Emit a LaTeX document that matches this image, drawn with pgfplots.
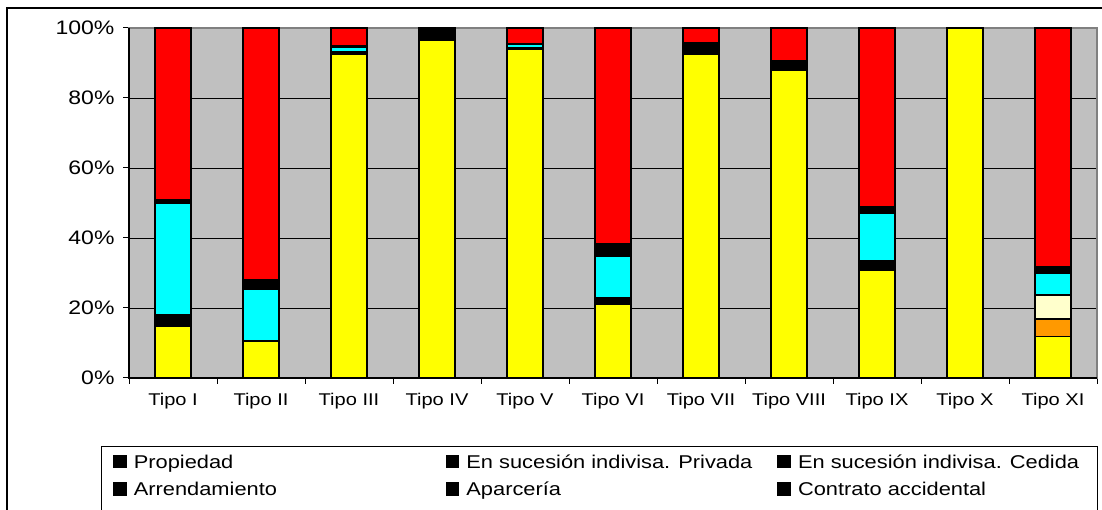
\documentclass[border=0pt]{standalone}
\usepackage{pgfplots}
\usepackage{pgfplotstable}
\pgfplotsset{compat=1.18}
\usepackage{fontspec}
\setmainfont{Liberation Sans}
\newfontfamily\widefont[FakeStretch=1.18]{Liberation Sans}
\definecolor{cgray}{RGB}{192,192,192}
\definecolor{corange}{RGB}{255,153,0}
\definecolor{clyellow}{RGB}{255,255,204}
\definecolor{cyel}{RGB}{255,255,0}
\definecolor{ccyan}{RGB}{0,255,255}
\definecolor{cred}{RGB}{255,0,0}
\definecolor{cbox}{RGB}{128,128,128}

\pgfplotstableread{
x yel ora lye blk1 cya blk2 red
0 14.7 0 0 3.4 31.8 1.1 49.0
1 10.6 0 0 0 14.8 2.6 72.0
2 92.6 0.6 0 0 1.4 0.3 5.1
3 96.6 0 0 0 0 3.4 0
4 94.0 0 0 0.4 0.9 0.3 4.4
5 21.0 0 0 1.8 11.9 3.5 61.8
6 92.4 0 0 0 0 3.5 4.1
7 88.0 0 0 0 0 2.6 9.4
8 30.7 0 0 2.9 13.6 1.7 51.1
9 100 0 0 0 0 0 0
10 11.8 5.0 6.9 0 6.2 1.9 68.2
}\data

\begin{document}
\begin{tikzpicture}[x=1pt,y=1pt]
\useasboundingbox (0,0) rectangle (1102,510);
\clip (0,0) rectangle (1102,510);
\draw[line width=2pt] (7,-10) -- (7,502) -- (1120,502);
\draw[line width=1pt] (101,-10) -- (101,63) -- (1097,63) -- (1097,-10);
\begin{axis}[
  at={(129pt,132pt)}, anchor=south west,
  scale only axis, width=968pt, height=350pt,
  ybar stacked, bar width=36pt,
  xmin=-0.5, xmax=10.5, ymin=0, ymax=100,
  axis background/.style={fill=cgray},
  axis line style={cbox, line width=1.2pt},
  xtick={-0.5,0.5,1.5,2.5,3.5,4.5,5.5,6.5,7.5,8.5,9.5,10.5},
  x tick label as interval,
  xticklabels={Tipo I,Tipo II,Tipo III,Tipo IV,Tipo V,Tipo VI,Tipo VII,Tipo VIII,Tipo IX,Tipo X,Tipo XI},
  ytick={0,20,40,60,80,100},
  yticklabels={0\%,20\%,40\%,60\%,80\%,100\%},
  tick align=outside, major tick length=6pt,
  xtick pos=bottom, ytick pos=left,
  tick style={black, line width=1pt},
  ymajorgrids, major grid style={black, line width=0.9pt},
  xticklabel style={font=\widefont\fontsize{17}{20}\selectfont, black, yshift=-6pt},
  yticklabel style={font=\widefont\fontsize{19.5}{22}\selectfont, black, xshift=-5pt},
  every axis plot/.append style={draw=black, line width=1.6pt},
  legend columns=3,
  legend style={at={(-0.0165,-0.214)}, anchor=north west, draw=none, fill=none,
    inner sep=0pt, row sep=8pt, font=\widefont\fontsize{18.5}{20}\selectfont,
    cells={anchor=west}},
  legend image code/.code={\fill[black] (0pt,-5pt) rectangle (12pt,7pt);\path (17pt,0pt);},
]
\addplot[fill=cyel] table[x=x,y=yel]{\data};
\addlegendentry{\makebox[310pt][l]{Propiedad}}
\addplot[fill=corange] table[x=x,y=ora]{\data};
\addlegendentry{\makebox[309pt][l]{En sucesión indivisa. Privada}}
\addplot[fill=clyellow] table[x=x,y=lye]{\data};
\addlegendentry{\makebox[290pt][l]{En sucesión indivisa. Cedida}}
\addplot[fill=black, forget plot] table[x=x,y=blk1]{\data};
\addplot[fill=ccyan] table[x=x,y=cya]{\data};
\addlegendentry{Arrendamiento}
\addplot[fill=black] table[x=x,y=blk2]{\data};
\addlegendentry{Aparcería}
\addplot[fill=cred] table[x=x,y=red]{\data};
\addlegendentry{Contrato accidental}
\end{axis}
\draw[black, line width=1.2pt] (129,482) -- (129,132) -- (1097,132);
\end{tikzpicture}
\end{document}
